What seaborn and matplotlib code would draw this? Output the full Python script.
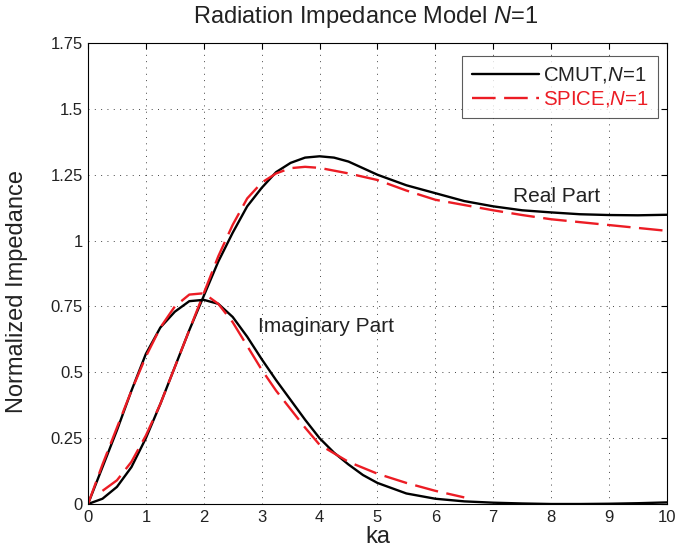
import matplotlib
matplotlib.use("Agg")
import matplotlib.pyplot as plt
import seaborn as sns

# CMUT model (solid black)
ka_cmut = [0, 0.25, 0.5, 0.75, 1, 1.25, 1.5, 1.75, 2, 2.25, 2.5, 2.75, 3, 3.25, 3.5, 3.75,
           4, 4.25, 4.5, 4.75, 5, 5.5, 6, 6.5, 7, 7.5, 8, 8.5, 9, 9.5, 10]
cmut_real = [0, 0.02, 0.065, 0.14, 0.25, 0.38, 0.52, 0.66, 0.79, 0.92, 1.03, 1.13, 1.20, 1.26,
             1.295, 1.315, 1.32, 1.315, 1.30, 1.275, 1.25, 1.21, 1.18, 1.15, 1.13, 1.115,
             1.107, 1.10, 1.097, 1.096, 1.098]
cmut_imag = [0, 0.14, 0.28, 0.43, 0.57, 0.67, 0.73, 0.77, 0.775, 0.76, 0.71, 0.635, 0.55, 0.47,
             0.395, 0.32, 0.25, 0.195, 0.15, 0.11, 0.08, 0.04, 0.02, 0.01, 0.005, 0.002,
             0.0, 0.0, 0.001, 0.003, 0.006]

# SPICE model (dashed red)
ka_spice_real = [0.25, 0.5, 0.75, 1, 1.25, 1.5, 1.75, 2, 2.25, 2.5, 2.75, 3, 3.25, 3.5, 3.75,
                 4, 4.5, 5, 5.5, 6, 6.5, 7, 7.5, 8, 8.5, 9, 9.5, 10]
spice_real = [0.05, 0.09, 0.16, 0.26, 0.38, 0.52, 0.66, 0.80, 0.94, 1.06, 1.16, 1.22, 1.255,
              1.275, 1.28, 1.276, 1.255, 1.23, 1.19, 1.155, 1.135, 1.115, 1.097, 1.081, 1.07,
              1.059, 1.048, 1.037]
ka_spice_imag = [0, 0.25, 0.5, 0.75, 1, 1.25, 1.5, 1.75, 2, 2.25, 2.5, 2.75, 3, 3.25, 3.5, 3.75,
                 4, 4.5, 5, 5.5, 6, 6.5]
spice_imag = [0, 0.15, 0.29, 0.43, 0.56, 0.67, 0.75, 0.795, 0.80, 0.76, 0.69, 0.60, 0.51, 0.43,
              0.36, 0.29, 0.225, 0.16, 0.115, 0.08, 0.05, 0.025]

x_ticks = [0, 1, 2, 3, 4, 5, 6, 7, 8, 9, 10]
y_ticks = [0, 0.25, 0.5, 0.75, 1, 1.25, 1.5, 1.75]
y_labels = ["0", "0.25", "0.5", "0.75", "1", "1.25", "1.5", "1.75"]

sns.set_style("white")
plt.rcParams["font.family"] = ["Liberation Sans", "DejaVu Sans"]
plt.rcParams["mathtext.fontset"] = "custom"
plt.rcParams["mathtext.it"] = "Liberation Sans:italic"
plt.rcParams["mathtext.rm"] = "Liberation Sans"

red = "#ec1c24"
txt = "#222222"
dash = (0, (10, 3.6))

fig = plt.figure(figsize=(6.77, 5.53), dpi=100)
ax = fig.add_axes([0.13, 0.0886, 0.855, 0.8336])

sns.lineplot(x=ka_cmut, y=cmut_real, color="black", lw=1.7, ax=ax,
             estimator=None, sort=False, label="CMUT,$N$=1")
sns.lineplot(x=ka_spice_real, y=spice_real, color=red, lw=1.7, linestyle=dash, ax=ax,
             estimator=None, sort=False, label="SPICE,$N$=1")
sns.lineplot(x=ka_cmut, y=cmut_imag, color="black", lw=1.7, ax=ax,
             estimator=None, sort=False)
sns.lineplot(x=ka_spice_imag, y=spice_imag, color=red, lw=1.7, linestyle=dash, ax=ax,
             estimator=None, sort=False)

ax.set_xlim(0, 10)
ax.set_ylim(0, 1.75)
ax.set_xticks(x_ticks)
ax.set_yticks(y_ticks)
ax.set_yticklabels(y_labels)
ax.grid(True, linestyle=(0, (1, 5.5)), color="#444444", lw=0.7)
ax.tick_params(direction="in", length=4, top=True, right=True, labelsize=12,
               color="black", labelcolor=txt)
ax.tick_params(axis="x", pad=4.3)
ax.tick_params(axis="y", pad=3.6)
for s in ax.spines.values():
    s.set_color("black")
    s.set_linewidth(0.8)

ax.set_xlabel("ka", fontsize=17, color=txt)
ax.xaxis.set_label_coords(0.5, -0.047)
ax.set_ylabel("Normalized Impedance", fontsize=17, color=txt)
ax.yaxis.set_label_coords(-0.104, 0.46)
ax.set_title("Radiation Impedance Model $N$=1", fontsize=17, pad=14.4, x=0.48, color=txt)

ax.text(7.34, 1.147, "Real Part", fontsize=15, color=txt)
ax.text(2.94, 0.653, "Imaginary Part", fontsize=15, color=txt)

leg = ax.legend(loc="upper right", bbox_to_anchor=(0.9845, 0.9718), borderaxespad=0,
                fontsize=14.7, frameon=True, fancybox=False,
                handlelength=3.3, handletextpad=0.2, borderpad=0.45, labelspacing=0.2)
leg.get_frame().set_edgecolor("#333333")
leg.get_frame().set_linewidth(0.8)
leg.get_texts()[0].set_color(txt)
leg.get_texts()[1].set_color(red)

fig.savefig("out.png", dpi=100)
